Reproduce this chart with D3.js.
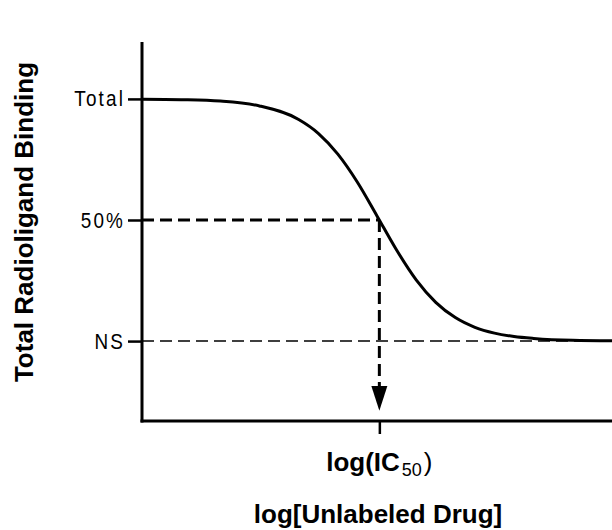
<!DOCTYPE html>
<html>
<head>
    <meta charset="utf-8" />
    <title>Competitive binding curve</title>
    <style>
        body { margin: 0; background: #fff; overflow: hidden; }
        svg { display: block; }
        text { font-family: "Liberation Sans", Arial, sans-serif; }
    </style>
</head>
<body>
    <div id="chart"></div>
    <script src="https://d3js.org/d3.v7.min.js"></script>
    <script>
        // curve: log concentration vs % of specific binding
        var logConc = [-9, -8.5, -8, -7.5, -7, -6.75, -6.5, -6.25, -6, -5.75, -5.5, -5.25, -5, -4.75, -4.5, -4.25, -4, -3.5, -3];
        var binding = [99.9, 99.7, 99.1, 97.1, 91.5, 85.8, 77.2, 65.6, 51.7, 37.6, 25.3, 16.0, 9.7, 5.7, 3.3, 1.9, 1.1, 0.3, 0.1];

        // y ticks: label and value (NS = 0, Total = 100)
        var yTickLabels = ["Total", "50%", "NS"];
        var yTickValues = [100, 50, 0];

        var logIC50 = -5.97;
        var xTickLabel = "log(IC";
        var xTickSub = "50";
        var xTitle = "log[Unlabeled Drug]";
        var yTitle = "Total Radioligand Binding";

        var width = 612, height = 530;
        var margin = { top: 42, left: 142, right: 0, bottom: 109 };

        var svg = d3.select("#chart")
            .append("svg")
            .attr("width", width)
            .attr("height", height);

        var x = d3.scaleLinear()
            .domain([-9, -3])
            .range([margin.left, width - margin.right]);
        var y = d3.scaleLinear()
            .domain([-33, 123.5])
            .range([height - margin.bottom, margin.top]);

        var data = logConc.map((c, i) => ({ x: c, y: binding[i] }));

        // NS dashed line (thin)
        svg.append("line")
            .attr("x1", x(-9)).attr("x2", x(-3))
            .attr("y1", y(0)).attr("y2", y(0))
            .attr("stroke", "#000")
            .attr("stroke-width", 1.5)
            .attr("stroke-dasharray", "12,6");

        // 50% dashed guides (thick)
        svg.append("line")
            .attr("x1", x(-9)).attr("x2", x(logIC50))
            .attr("y1", y(50)).attr("y2", y(50))
            .attr("stroke", "#000")
            .attr("stroke-width", 3)
            .attr("stroke-dasharray", "12,6");

        var arrowBase = y(-18.5);
        var arrowTip = y(-28.8);
        svg.append("line")
            .attr("x1", x(logIC50)).attr("x2", x(logIC50))
            .attr("y1", y(50)).attr("y2", arrowBase)
            .attr("stroke", "#000")
            .attr("stroke-width", 3)
            .attr("stroke-dasharray", "12,6");

        svg.append("path")
            .attr("d", `M${x(logIC50) - 8},${arrowBase} L${x(logIC50) + 8},${arrowBase} L${x(logIC50)},${arrowTip} Z`)
            .attr("fill", "#000");

        // the curve
        var line = d3.line()
            .x(d => x(d.x))
            .y(d => y(d.y))
            .curve(d3.curveMonotoneX);

        svg.append("path")
            .datum(data)
            .attr("d", line)
            .attr("fill", "none")
            .attr("stroke", "#000")
            .attr("stroke-width", 3)
            .attr("stroke-linejoin", "round");

        // axes
        var yAxis = d3.axisLeft(y)
            .tickValues(yTickValues)
            .tickFormat((d, i) => yTickLabels[i])
            .tickSize(14)
            .tickPadding(0);
        var yAxisG = svg.append("g")
            .attr("transform", `translate(${margin.left},0)`)
            .call(yAxis);
        yAxisG.select(".domain").remove();
        yAxisG.selectAll(".tick line").attr("stroke-width", 2.5);
        // narrow, letter-spaced labels
        yAxisG.selectAll(".tick text")
            .attr("font-family", "Liberation Sans, Arial, sans-serif")
            .attr("font-size", 22)
            .attr("letter-spacing", 2.5)
            .attr("fill", "#000")
            .attr("x", -17 / 0.86)
            .attr("transform", "scale(0.86,1)");

        svg.append("line")
            .attr("x1", margin.left).attr("x2", margin.left)
            .attr("y1", margin.top).attr("y2", y(-33) + 1.5)
            .attr("stroke", "#000")
            .attr("stroke-width", 3);

        var xAxis = d3.axisBottom(x)
            .tickValues([logIC50])
            .tickFormat("")
            .tickSize(13);
        var xAxisG = svg.append("g")
            .attr("transform", `translate(0,${y(-33)})`)
            .call(xAxis);
        xAxisG.select(".domain").remove();
        xAxisG.selectAll(".tick line").attr("stroke-width", 2.5);

        svg.append("line")
            .attr("x1", margin.left - 1.5).attr("x2", width)
            .attr("y1", y(-33)).attr("y2", y(-33))
            .attr("stroke", "#000")
            .attr("stroke-width", 3);

        // log(IC50) label
        var icText = svg.append("text")
            .attr("x", x(logIC50))
            .attr("y", 471)
            .attr("text-anchor", "middle")
            .attr("font-size", 26)
            .attr("font-weight", "bold");
        icText.append("tspan").text(xTickLabel);
        icText.append("tspan")
            .attr("font-size", 18)
            .attr("font-weight", "normal")
            .attr("dx", 2)
            .attr("dy", 5)
            .text(xTickSub);
        icText.append("tspan")
            .attr("dx", 2)
            .attr("dy", -5)
            .attr("font-weight", "normal")
            .text(")");

        // axis titles
        svg.append("text")
            .attr("x", 378)
            .attr("y", 523)
            .attr("text-anchor", "middle")
            .attr("font-size", 26)
            .attr("font-weight", "bold")
            .text(xTitle);

        svg.append("text")
            .attr("transform", "translate(33,222) rotate(-90)")
            .attr("text-anchor", "middle")
            .attr("font-size", 26)
            .attr("font-weight", "bold")
            .text(yTitle);
    </script>
</body>
</html>
